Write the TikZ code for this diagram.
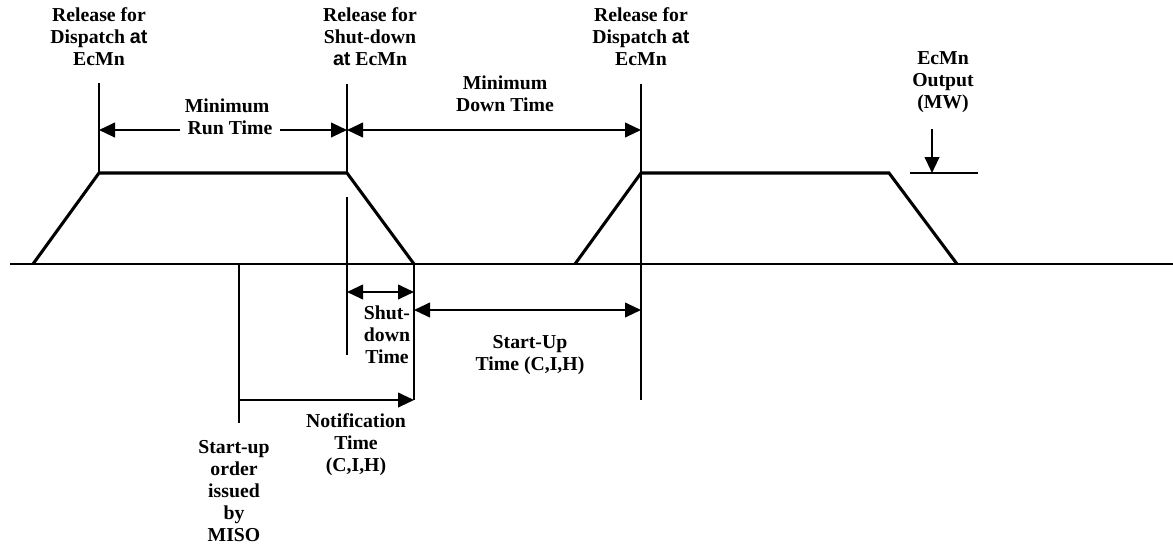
\documentclass[tikz,border=0pt]{standalone}
\usepackage{fontspec}
\setmainfont{Liberation Serif}
\newfontfamily\sansb{Liberation Sans}
\usetikzlibrary{arrows.meta}
\newcommand{\AT}{{\sansb\bfseries at}}
\begin{document}
\begin{tikzpicture}[x=0.75pt,y=-0.75pt,
  lbl/.style={font={\fontsize{14.8}{16.5}\selectfont\bfseries}, align=center, inner sep=0pt},
  ln/.style={line width=1.5pt},
  prof/.style={line width=2.3pt, line join=miter},
  tip/.style={Triangle[length=12pt,width=11pt]},
  dim/.style={line width=1.5pt, {Triangle[length=12pt,width=11pt]}-{Triangle[length=12pt,width=11pt]}},
  dimr/.style={line width=1.5pt, -{Triangle[length=12pt,width=11pt]}}]
\useasboundingbox (0,0) rectangle (1173,546);
% named coordinates
\coordinate (b0) at (10,264);
\coordinate (b1) at (1173,264);
\coordinate (p1) at (33,264);
\coordinate (p2) at (99,173);
\coordinate (p3) at (347,173);
\coordinate (p4) at (414,264);
\coordinate (q1) at (575,264);
\coordinate (q2) at (641,173);
\coordinate (q3) at (889,173);
\coordinate (q4) at (957,264);
\coordinate (v1t) at (99,83);
\coordinate (v2t) at (347,84);
\coordinate (v2a) at (347,197);
\coordinate (v2b) at (347,355);
\coordinate (v3b) at (414,400);
\coordinate (v4t) at (239,264);
\coordinate (v4b) at (239,423);
\coordinate (v5t) at (641,84);
\coordinate (v5b) at (641,400);
% baseline
\draw[line width=2.2pt] (b0) -- (b1);
% profiles
\draw[prof] (p1) -- (p2) -- (p3) -- (p4);
\draw[prof] (q1) -- (q2) -- (q3) -- (q4);
% verticals
\draw[ln] (v1t) -- (p2);
\draw[ln] (v2t) -- (p3);
\draw[ln] (v2a) -- (v2b);
\draw[ln] (p4) -- (v3b);
\draw[ln] (v4t) -- (v4b);
\draw[ln] (v5t) -- (v5b);
% dimension arrows
\coordinate (mr1) at (99,130); \coordinate (mr2) at (347,130);
\coordinate (md2) at (641,130);
\draw[dim] (mr1) -- (mr2);
\draw[dim] (mr2) -- (md2);
\coordinate (sd1) at (347,292); \coordinate (sd2) at (414,292);
\draw[dim] (sd1) -- (sd2);
\coordinate (su1) at (414,310); \coordinate (su2) at (641,310);
\draw[dim] (su1) -- (su2);
\coordinate (nt1) at (239,400); \coordinate (nt2) at (414,400);
\draw[dimr] (nt1) -- (nt2);
% output marker
\coordinate (o1) at (910,173); \coordinate (o2) at (978,173);
\coordinate (oa) at (932,129); \coordinate (ob) at (932,173);
\draw[ln] (o1) -- (o2);
\draw[dimr] (oa) -- (ob);
% labels
\node[lbl] (l1) at (99,37) {Release for\\Dispatch \AT\\EcMn};
\node[lbl] (l2) at (370,37) {Release for\\Shut-down\\\AT\ EcMn};
\node[lbl] (l3) at (641,37) {Release for\\Dispatch \AT\\EcMn};
\node[lbl] (lmin) at (227,106) {Minimum};
\node[lbl, fill=white, inner xsep=6pt, inner ysep=1pt] (lrun) at (230,128) {Run Time};
\node[lbl] (ldown) at (505,94) {Minimum\\Down Time};
\node[lbl] (lout) at (943,82) {EcMn\\Output\\(MW)};
\node[lbl] (lsd) at (387,335) {Shut-\\down\\Time};
\node[lbl] (lsu) at (530,355) {Start-Up\\Time (C,I,H)};
\node[lbl] (lnt) at (356,445) {Notification\\Time\\(C,I,H)};
\node[lbl] (lso) at (234,491) {Start-up\\order\\issued\\by\\MISO};
\end{tikzpicture}
\end{document}
